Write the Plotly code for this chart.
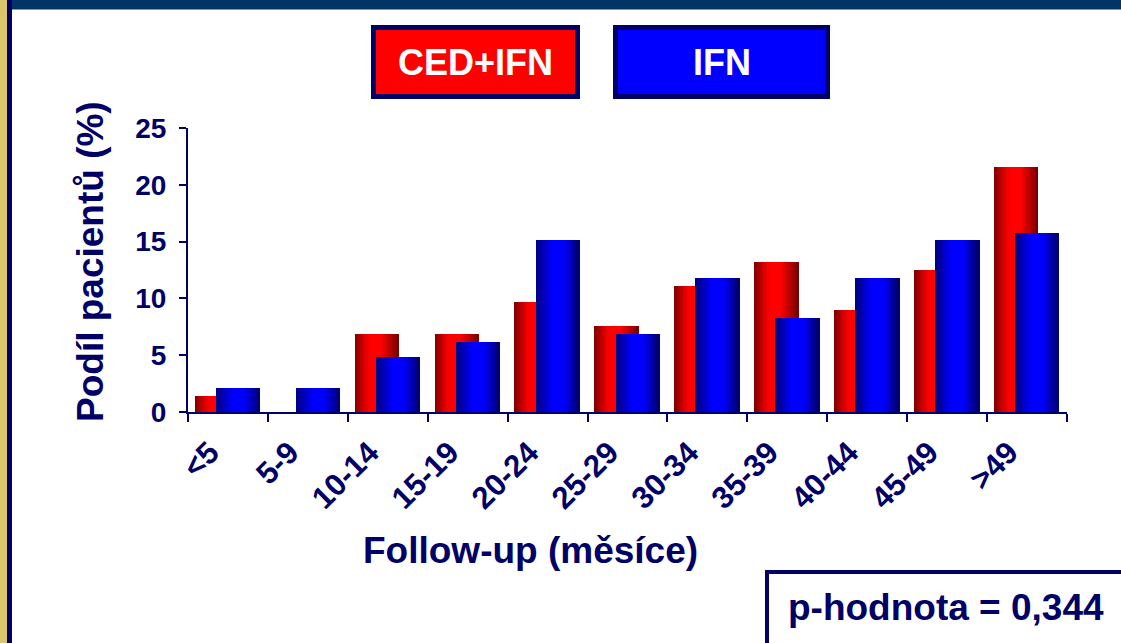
import plotly.graph_objects as go

# ---------------- data ----------------
categories = ["<5", "5-9", "10-14", "15-19", "20-24", "25-29",
              "30-34", "35-39", "40-44", "45-49", ">49"]
ced_ifn = [1.4, 0.0, 6.9, 6.9, 9.7, 7.6, 11.1, 13.2, 9.0, 12.5, 21.6]
ifn = [2.1, 2.1, 4.8, 6.2, 15.1, 6.9, 11.8, 8.3, 11.8, 15.1, 15.8]
series_names = ["CED+IFN", "IFN"]
y_ticks = [0, 5, 10, 15, 20, 25]
x_title = "Follow-up (měsíce)"
y_title = "Podíl pacientů (%)"
p_text = "p-hodnota = 0,344"

# ---------------- style ----------------
W, H = 1121, 643
L, R, T, B = 188, 1067, 128, 412
NAVY = "#000066"
FONT = "Liberation Sans, Arial, sans-serif"


def fx(px):
    return (px - L) / (R - L)


def fy(py):
    return (B - py) / (B - T)


def profile(t, pts):
    for (t0, b0), (t1, b1) in zip(pts, pts[1:]):
        if t0 <= t <= t1:
            return b0 + (b1 - b0) * (t - t0) / (t1 - t0)
    return pts[-1][1]


red_prof = [(0, 0.50), (0.33, 1.0), (0.60, 1.0), (1.0, 0.44)]
blue_prof = [(0, 0.50), (0.38, 1.0), (0.62, 1.0), (1.0, 0.40)]

fig = go.Figure()

N = 24
bar_w = 0.555
specs = [(ced_ifn, -0.415, red_prof, lambda b: f"rgb({int(255*b)},0,0)"),
         (ifn, -0.150, blue_prof, lambda b: f"rgb(0,0,{int(255*b)})")]
for vals, off0, prof, col in specs:
    step = bar_w / N
    for k in range(N):
        t = (k + 0.5) / N
        wk = step * (1.35 if k < N - 1 else 1.0)
        fig.add_trace(go.Bar(
            x=categories, y=vals,
            offset=off0 + k * step, width=wk,
            marker=dict(color=col(profile(t, prof)), line=dict(width=0)),
            showlegend=False, hoverinfo="skip",
        ))

fig.update_layout(
    width=W, height=H,
    margin=dict(l=L, r=W - R, t=T, b=H - B, pad=0),
    paper_bgcolor="white", plot_bgcolor="white",
    barmode="overlay", bargap=0,
    font=dict(family=FONT, color=NAVY),
    showlegend=False,
)
fig.update_xaxes(
    type="category", range=[-0.5, len(categories) - 0.5],
    showline=True, linecolor=NAVY, linewidth=2,
    ticks="outside", tickson="boundaries", ticklen=8, tickwidth=2, tickcolor=NAVY,
    tickangle=-45, tickfont=dict(size=31, family=FONT, weight="bold", color=NAVY),
    ticklabelstandoff=8, ticklabelshift=-18,
    showgrid=False, zeroline=False, automargin=False, fixedrange=True,
)
fig.update_yaxes(
    range=[0, 25], tickvals=y_ticks,
    showline=True, linecolor=NAVY, linewidth=2,
    ticks="outside", ticklen=7, tickwidth=2, tickcolor=NAVY,
    tickfont=dict(size=28, family=FONT, weight="bold", color=NAVY),
    ticklabelstandoff=7,
    showgrid=False, zeroline=False, automargin=False, fixedrange=True,
)

shapes = []
# decorative frame
shapes.append(dict(type="rect", xref="paper", yref="paper",
                   x0=fx(12), x1=fx(W + 5), y0=fy(-5), y1=fy(9.5),
                   fillcolor="#003366", line=dict(width=0), layer="above"))
shapes.append(dict(type="rect", xref="paper", yref="paper",
                   x0=fx(-2), x1=fx(7), y0=fy(H + 5), y1=fy(-5),
                   fillcolor="#DCC66C", line=dict(width=0), layer="above"))
shapes.append(dict(type="rect", xref="paper", yref="paper",
                   x0=fx(7), x1=fx(12), y0=fy(H + 5), y1=fy(-5),
                   fillcolor=NAVY, line=dict(width=0), layer="above"))
# legend boxes
boxes = [(371, 580, "#FF0000"), (613, 830, "#0000FF")]
for (bx0, bx1, fill) in boxes:
    shapes.append(dict(type="rect", xref="paper", yref="paper",
                       x0=fx(bx0 + 2.5), x1=fx(bx1 - 2.5), y0=fy(99 - 2.5), y1=fy(25 + 2.5),
                       fillcolor=fill, line=dict(color=NAVY, width=5), layer="above"))
# p-value box
shapes.append(dict(type="rect", xref="paper", yref="paper",
                   x0=fx(767), x1=fx(W + 20), y0=fy(H + 20), y1=fy(572),
                   fillcolor="white", line=dict(color=NAVY, width=4), layer="above"))
fig.update_layout(shapes=shapes)

ann = []
for (bx0, bx1, _), name in zip(boxes, series_names):
    ann.append(dict(xref="paper", yref="paper", x=fx((bx0 + bx1) / 2), y=fy(63),
                    xanchor="center", yanchor="middle", showarrow=False, text=name,
                    font=dict(size=36, family=FONT, weight="bold", color="white")))
ann.append(dict(xref="paper", yref="paper", x=fx(530), y=fy(550),
                xanchor="center", yanchor="middle", showarrow=False, text=x_title,
                font=dict(size=37, family=FONT, weight="bold", color=NAVY)))
ann.append(dict(xref="paper", yref="paper", x=fx(90), y=fy(262), textangle=-90,
                xanchor="center", yanchor="middle", showarrow=False, text=y_title,
                font=dict(size=37, family=FONT, weight="bold", color=NAVY)))
ann.append(dict(xref="paper", yref="paper", x=fx(946), y=fy(607),
                xanchor="center", yanchor="middle", showarrow=False, text=p_text,
                font=dict(size=37, family=FONT, weight="bold", color=NAVY)))
fig.update_layout(annotations=ann)

fig.write_html("out.html", config={"displayModeBar": False},
               post_script="document.body.style.margin='0px';")
